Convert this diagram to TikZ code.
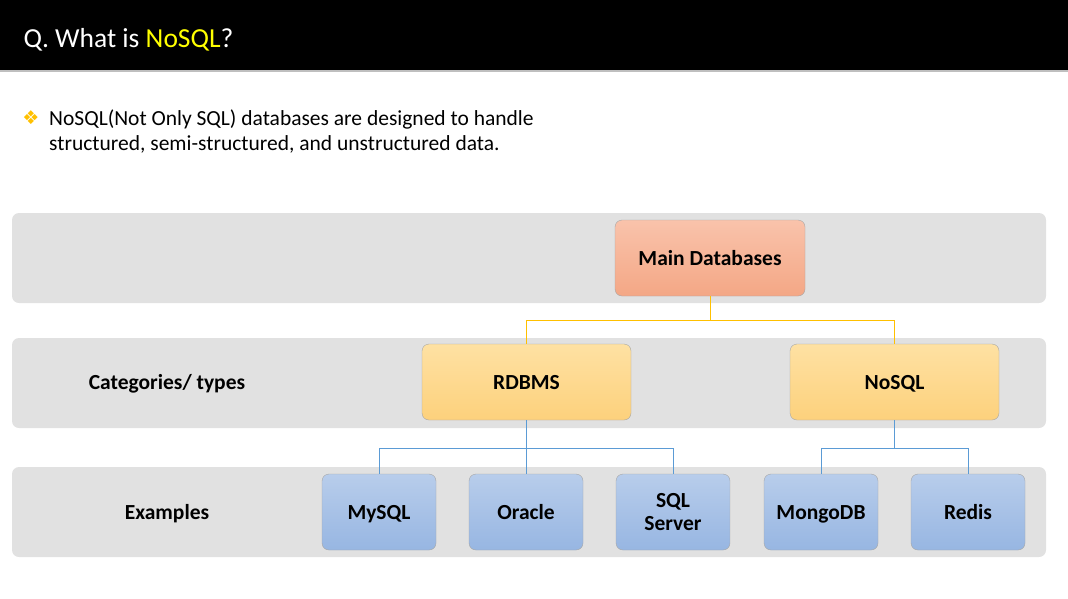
\documentclass[tikz,border=0pt]{standalone}
\usepackage{fontspec}
\setmainfont{Carlito}
\newfontfamily\symfont{DejaVu Sans}
\definecolor{bandgray}{HTML}{E1E1E1}
\definecolor{boxedge}{HTML}{A6A6A6}
\definecolor{salmontop}{HTML}{F9C3AB}
\definecolor{salmonbot}{HTML}{F4A785}
\definecolor{yeltop}{HTML}{FEE1A3}
\definecolor{yelbot}{HTML}{FDD17C}
\definecolor{bluetop}{HTML}{B8CDEB}
\definecolor{bluebot}{HTML}{97B6E2}
\definecolor{yelline}{HTML}{FFC000}
\definecolor{blueline}{HTML}{5B9BD5}
\definecolor{titleyellow}{HTML}{FFFF00}
\begin{document}
\begin{tikzpicture}[x=1pt,y=-1pt,
	band/.style={fill=bandgray, rounded corners=7pt},
	boxtext/.style={font=\fontsize{21.5}{24}\selectfont\bfseries},
	oneline/.style={text height=16pt, text depth=2pt},
	mainbox/.style={draw=boxedge, rounded corners=7pt, top color=salmontop, bottom color=salmonbot,
		minimum width=190pt, minimum height=76pt, boxtext, oneline},
	catbox/.style={draw=boxedge, rounded corners=7pt, top color=yeltop, bottom color=yelbot,
		minimum width=209pt, minimum height=76pt, boxtext, oneline},
	exbox/.style={draw=boxedge, rounded corners=7pt, top color=bluetop, bottom color=bluebot,
		minimum width=114pt, minimum height=76pt, align=center, boxtext},
	rowlabel/.style={boxtext, oneline},
	yelconn/.style={draw=yelline, line width=1pt},
	blueconn/.style={draw=blueline, line width=1pt}]
	\useasboundingbox (0,0) rectangle (1068,598);
	% title bar
	\fill[black] (0,0) rectangle (1068,70);
	\draw[gray!50, line width=1.5pt] (0,71) -- (1068,71);
	\node[anchor=base west, white, font=\fontsize{27.5}{30}\selectfont] (title) at (20,47)
		{Q. What is \textcolor{titleyellow}{NoSQL}?};
	% bullet text
	\node[text=yelline, inner sep=0pt, font=\symfont\fontsize{19}{20}\selectfont] (bullet) at (31,118) {❖};
	\node[anchor=base west, align=left, inner sep=0pt, font=\fontsize{21.5}{25}\selectfont] (intro) at (49,125)
		{NoSQL(Not Only SQL) databases are designed to handle};
	\node[anchor=base west, inner sep=0pt, font=\fontsize{21.5}{25}\selectfont] (intro2) at (49,150)
		{structured, semi-structured, and unstructured data.};
	% bands
	\fill[band] (12,213) rectangle (1046,303);
	\fill[band] (12,338) rectangle (1046,428);
	\fill[band] (12,467) rectangle (1046,557);
	% row labels
	\node[rowlabel] (catlabel) at (167,382) {Categories/ types};
	\node[rowlabel] (exlabel) at (167,512) {Examples};
	% boxes
	\node[mainbox] (main) at (710,258) {Main Databases};
	\node[catbox] (rdbms) at (526.5,382) {RDBMS};
	\node[catbox] (nosql) at (894.5,382) {NoSQL};
	\node[exbox, oneline] (mysql) at (379,512) {MySQL};
	\node[exbox, oneline] (oracle) at (526,512) {Oracle};
	\node[exbox] (sqlserver) at (673,512) {\rule{0pt}{8pt}SQL\\[-1pt]Server};
	\node[exbox, oneline] (mongodb) at (821,512) {MongoDB};
	\node[exbox, oneline] (redis) at (968,512) {Redis};
	% connectors
	\draw[yelconn] (main.south) |- (526.5,320) -- (rdbms.north);
	\draw[yelconn] (main.south) |- (894.5,320) -- (nosql.north);
	\foreach \ex in {mysql,oracle,sqlserver}
		\draw[blueconn] (rdbms.south) -- ++(0,28) -| (\ex.north);
	\foreach \ex in {mongodb,redis}
		\draw[blueconn] (nosql.south) -- ++(0,28) -| (\ex.north);
\end{tikzpicture}
\end{document}
